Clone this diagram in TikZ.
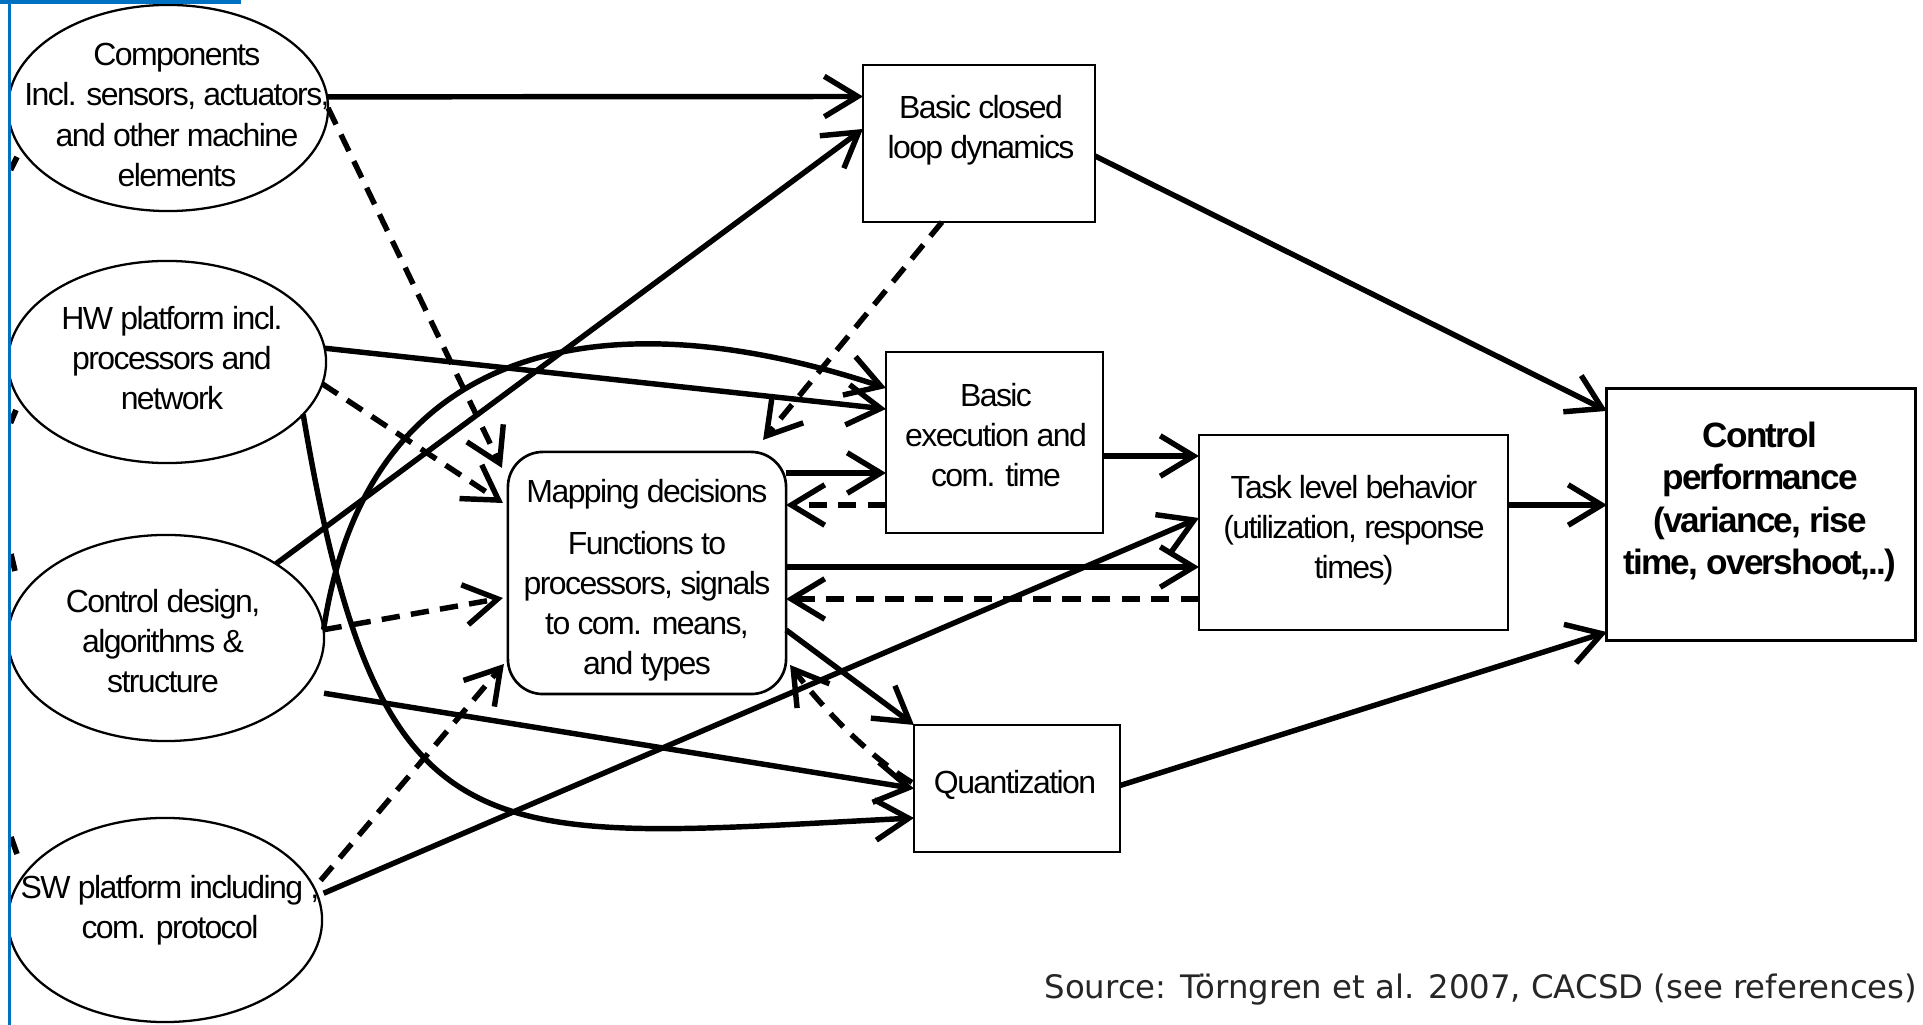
\documentclass[tikz,border=0pt]{standalone}
\usepackage{fontspec}
\setmainfont{Liberation Sans}[LetterSpace=-5]
\newfontfamily\srcfont{DejaVu Sans}
\usetikzlibrary{arrows.meta,shapes.geometric}
\definecolor{frameblue}{RGB}{0,112,192}

\tikzset{
  factor/.style={draw, ellipse, line width=0.65pt, inner sep=0pt, outer sep=0pt},
  stage/.style={draw, rectangle, line width=0.75pt, inner sep=0pt, outer sep=0pt},
  decision/.style={stage, rounded corners=0.35cm},
  lbl/.style={align=center, inner sep=0pt, font=\fontsize{9.1pt}{11.4pt}\selectfont},
  boldlbl/.style={align=center, inner sep=0pt, font=\fontsize{10pt}{12pt}\selectfont\bfseries},
  conn/.style={line width=1.55pt, -{Straight Barb[length=9.5pt, width=11.5pt]}},
  feedback/.style={conn, dash pattern=on 5.2pt off 3.2pt},
  cutend/.style={line width=1.6pt},
}

\begin{document}
\begin{tikzpicture}[x=0.01cm, y=-0.01cm]
\useasboundingbox (0,0) rectangle (1923,1025);

% influencing factors
\node[factor, minimum width=3.20cm, minimum height=2.06cm] (e1) at (168,108) {};
\node[factor, minimum width=3.18cm, minimum height=2.02cm] (e2) at (167,362) {};
\node[factor, minimum width=3.16cm, minimum height=2.06cm] (e3) at (166,638) {};
\node[factor, minimum width=3.14cm, minimum height=2.04cm] (e4) at (165,920) {};

\node[lbl] (e1t) at (177,115) {Components\\Incl. sensors, actuators,\\and other machine\\elements};
\node[lbl] (e2t) at (172,358) {HW platform incl.\\processors and\\network};
\node[lbl] (e3t) at (163,641) {Control design,\\algorithms \&\\structure};
\node[lbl] (e4t) at (170,910) {SW platform including ,\\com. protocol};

% mapping and intermediate effects
\node[decision, minimum width=2.78cm, minimum height=2.42cm] (m) at (647,573) {};
\node[lbl] (mt) at (647,580) {Mapping decisions\\[3.4pt]Functions to\\processors, signals\\to com. means,\\and types};

\node[stage, minimum width=2.32cm, minimum height=1.57cm] (b1) at (979,143.5) {};
\node[lbl] (b1t) at (981,130) {Basic closed\\loop dynamics};

\node[stage, minimum width=2.17cm, minimum height=1.81cm] (b2) at (994.5,442.5) {};
\node[lbl] (b2t) at (996,435) {Basic\\execution and\\com. time};

\node[stage, minimum width=2.06cm, minimum height=1.27cm] (q) at (1017,788.5) {};
\node[lbl] (qt) at (1015,785) {Quantization};

\node[stage, minimum width=3.09cm, minimum height=1.95cm] (b3) at (1353.5,532.5) {};
\node[lbl] (b3t) at (1354,530) {Task level behavior\\(utilization, response\\times)};

\node[stage, line width=0.85pt, minimum width=3.08cm, minimum height=2.51cm] (b4) at (1761,514.5) {};
\node[boldlbl] (b4t) at (1760,502) {Control\\performance\\(variance, rise\\time, overshoot,..)};

% solid influences
\draw[conn] (e1.4) -- ([shift={(0,-47)}]b1.west);
\draw[conn] (e2.5) -- ([shift={(0,-33.5)}]b2.west);
\draw[conn] (e2.-21) .. controls +(77,456) and +(-434,22) .. ([shift={(0,29.5)}]q.west);
\draw[conn] (e3.34) -- ([shift={(0,-14.5)}]b1.west);
\draw[conn] (e3.3) .. controls +(45,-300) and +(-266,-88) .. ([shift={(0,-54.5)}]b2.west);
\draw[conn] ([shift={(20,5)}]e3.-20) -- (q.west);
\draw[conn] ([shift={(7,0)}]e4.10) -- ([shift={(0,-14.5)}]b3.west);

\draw[conn] ([shift={(0,-100)}]m.east) -- ([shift={(0,30.5)}]b2.west);
\draw[conn] ([shift={(0,-6)}]m.east) -- ([shift={(0,34.5)}]b3.west);
\draw[conn] ([shift={(0,57)}]m.east) -- (q.north west);
\draw[conn] ([shift={(0,13.5)}]b2.east) -- ([shift={(0,-76.5)}]b3.west);

\draw[conn] ([shift={(0,12.5)}]b1.east) -- ([shift={(0,22)}]b4.north west);
\draw[conn] ([shift={(0,-27.5)}]b3.east) -- ([shift={(0,-9.5)}]b4.west);
\draw[conn] ([shift={(0,-3)}]q.east) -- ([shift={(0,-8)}]b4.south west);

% dashed influences on the mapping decisions
\draw[feedback] (e1.0) -- ([shift={(-6,16)}]m.north west);
\draw[feedback] (e2.-8) -- ([shift={(-5,-70)}]m.west);
\draw[feedback] (e3.3) -- ([shift={(-5,25)}]m.west);
\draw[feedback] ([shift={(9,-3)}]e4.14) -- ([shift={(-4,91)}]m.west);
\draw[feedback] ([shift={(-37,0)}]b1.south) -- ([shift={(-23,-12)}]m.north east);
\draw[feedback] ([shift={(0,62.5)}]b2.west) -- ([shift={(0,-68)}]m.east);
\draw[feedback] ([shift={(0,66.5)}]b3.west) -- ([shift={(0,26)}]m.east);
\draw[feedback] ([shift={(-2,-6)}]q.west) .. controls +(-45,-27) and +(30,40) .. ([shift={(4,92)}]m.east);

% source note
\node[anchor=east, inner sep=0pt, text=black!85, font=\srcfont\fontsize{9.2pt}{11pt}\selectfont] (src) at (1918,990)
  {Source: Törngren et al. 2007, CACSD (see references)};

% slide frame and clipped arrow ends at the left border
\draw[cutend] (10.5,170) -- (17,157);
\draw[cutend] (10.5,423) -- (16,410);
\draw[cutend] (11,554) -- (15,571);
\draw[cutend] (11,837) -- (17,854);
\fill[white] (0,0) rectangle (7.5,1025);
\fill[frameblue] (7.5,0) rectangle (10.5,1025);
\fill[frameblue] (0,0) rectangle (241,4.5);
\end{tikzpicture}
\end{document}
